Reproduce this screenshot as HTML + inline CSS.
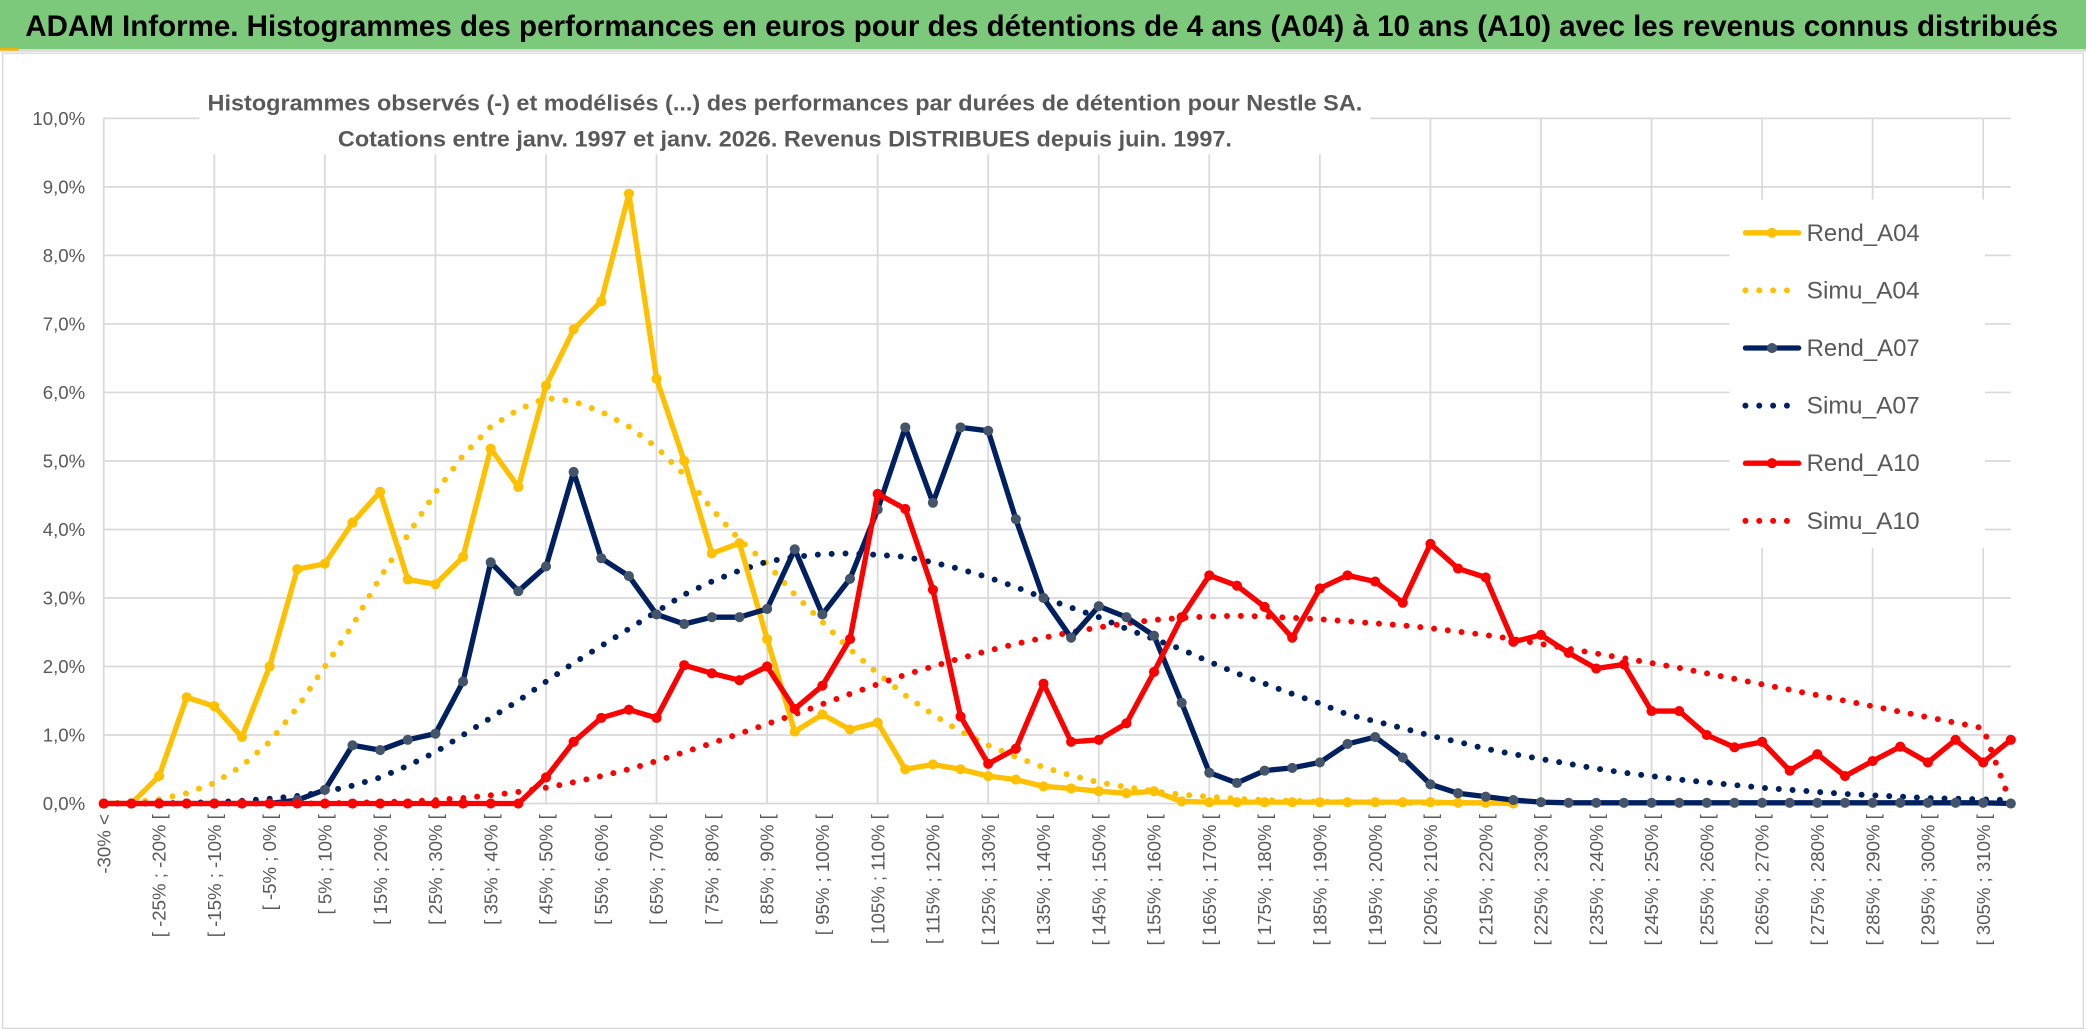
<!DOCTYPE html>
<html><head><meta charset="utf-8"><style>
html,body{margin:0;padding:0;background:#fff;}
svg{display:block;}
text{font-family:"Liberation Sans Narrow","Liberation Sans",sans-serif;}
</style></head><body>
<svg id="chart" width="2086" height="1031" viewBox="0 0 1568 775" preserveAspectRatio="none" xmlns="http://www.w3.org/2000/svg">
<rect x="0" y="0" width="1568" height="775" fill="#fff"/>
<rect x="0" y="0" width="1568" height="37" fill="#7cc97c"/>
<rect x="0" y="37" width="1568" height="2" fill="#ddd"/>
<rect x="0" y="36" width="14" height="2" fill="#f0b400"/>
<text x="19" y="27" font-size="22" font-weight="bold" fill="#000" textLength="1528" lengthAdjust="spacingAndGlyphs">ADAM Informe. Histogrammes des performances en euros pour des détentions de 4 ans (A04) à 10 ans (A10) avec les revenus connus distribués</text>
<rect x="2" y="40" width="1564" height="733" fill="none" stroke="#d9d9d9" stroke-width="1"/>
<g id="grid"></g>
<g id="yaxis"></g>
<g id="xaxis"></g>
<g id="series"></g>
<rect x="150" y="58" width="880" height="58" fill="#fff"/>
<text x="590" y="83" font-size="17" font-weight="bold" fill="#595959" text-anchor="middle" textLength="868" lengthAdjust="spacingAndGlyphs">Histogrammes observés (-) et modélisés (...) des performances par durées de détention pour Nestle SA.</text>
<text x="590" y="110" font-size="17" font-weight="bold" fill="#595959" text-anchor="middle" textLength="672" lengthAdjust="spacingAndGlyphs">Cotations entre janv. 1997 et janv. 2026. Revenus DISTRIBUES depuis juin. 1997.</text>
<g id="legend"></g>
</svg>
<script>
const categoryLabels = [];
const categoryCount = 70;
for (let k = 0; k < categoryCount; k++) {
  categoryLabels.push(k === 0 ? "-30% <" : "[ " + (-35 + 5 * k) + "% ; " + (-30 + 5 * k) + "% [");
}
const yTicks = [0,1,2,3,4,5,6,7,8,9,10];
const yTickLabels = ["0,0%","1,0%","2,0%","3,0%","4,0%","5,0%","6,0%","7,0%","8,0%","9,0%","10,0%"];

const rendA04 = [0,0,0.4,1.55,1.42,0.97,2.0,3.42,3.5,4.1,4.55,3.27,3.2,3.6,5.18,4.62,6.1,6.92,7.33,8.9,6.2,5.0,3.65,3.8,2.4,1.05,1.3,1.08,1.18,0.5,0.57,0.5,0.4,0.35,0.25,0.22,0.18,0.15,0.18,0.03,0.02,0.02,0.02,0.02,0.02,0.02,0.02,0.02,0.02,0.01,0.01,0];
const simuA04 = [0,0.02,0.06,0.15,0.3,0.55,0.9,1.4,2.0,2.6,3.3,3.92,4.54,5.08,5.5,5.75,5.92,5.87,5.72,5.5,5.2,4.8,4.3,3.85,3.5,3.05,2.65,2.25,1.9,1.58,1.3,1.05,0.85,0.68,0.53,0.41,0.31,0.24,0.18,0.13,0.1,0.07,0.05,0.04,0.03,0.02,0.02,0.01,0.01,0.01,0.01,0];
const rendA07 = [0,0,0,0,0,0,0,0.05,0.2,0.85,0.78,0.93,1.02,1.78,3.52,3.1,3.46,4.84,3.58,3.32,2.76,2.62,2.72,2.72,2.84,3.71,2.76,3.28,4.29,5.49,4.39,5.49,5.44,4.15,3.0,2.42,2.88,2.72,2.45,1.47,0.45,0.3,0.48,0.52,0.6,0.87,0.97,0.67,0.28,0.15,0.1,0.05,0.02,0.01,0.01,0.01,0.01,0.01,0.01,0.01,0.01,0.01,0.01,0.01,0.01,0.01,0.01,0.01,0.01,0];
const simuA07 = [0,0,0,0.01,0.02,0.04,0.07,0.11,0.17,0.26,0.38,0.55,0.75,1.0,1.25,1.5,1.78,2.05,2.3,2.55,2.8,3.05,3.24,3.4,3.53,3.6,3.64,3.65,3.63,3.6,3.52,3.42,3.3,3.16,3.0,2.86,2.72,2.55,2.4,2.25,2.07,1.9,1.75,1.6,1.46,1.3,1.2,1.1,0.99,0.9,0.8,0.72,0.65,0.58,0.51,0.45,0.4,0.35,0.31,0.27,0.23,0.2,0.17,0.14,0.12,0.1,0.08,0.07,0.06,0.05];
const rendA10 = [0,0,0,0,0,0,0,0,0,0,0,0,0,0,0,0,0.38,0.9,1.25,1.37,1.25,2.02,1.9,1.8,2.0,1.38,1.72,2.4,4.52,4.3,3.12,1.27,0.58,0.8,1.75,0.9,0.93,1.17,1.92,2.72,3.33,3.18,2.87,2.42,3.14,3.33,3.24,2.93,3.79,3.43,3.3,2.36,2.46,2.2,1.97,2.03,1.35,1.35,1.0,0.82,0.9,0.48,0.72,0.4,0.62,0.83,0.6,0.93,0.6,0.93];
const simuA10 = [0,0,0,0,0,0,0,0,0,0.01,0.02,0.03,0.05,0.08,0.12,0.17,0.23,0.31,0.4,0.5,0.62,0.75,0.88,1.02,1.16,1.3,1.45,1.6,1.74,1.88,2.0,2.12,2.23,2.33,2.42,2.5,2.57,2.63,2.68,2.71,2.73,2.74,2.73,2.71,2.69,2.66,2.63,2.6,2.56,2.51,2.46,2.4,2.33,2.26,2.19,2.12,2.05,1.98,1.9,1.82,1.74,1.66,1.58,1.5,1.42,1.34,1.26,1.18,1.1,0];

const NS = "http://www.w3.org/2000/svg";
const X0 = 78, X1 = 1511.5, Y0 = 604, Y10 = 89;
function xScale(i){ return X0 + i * (X1 - X0) / (categoryCount - 1); }
function yScale(v){ return Y0 - v * (Y0 - Y10) / 10; }
function mk(tag, attrs, parent){ const e = document.createElementNS(NS, tag); for (const k in attrs) e.setAttribute(k, attrs[k]); parent.appendChild(e); return e; }

const grid = document.getElementById("grid");
yTicks.forEach((t, j) => {
  const l = mk("line", {x1: X0, x2: X1, y1: yScale(t), y2: yScale(t), stroke: "#d9d9d9", "stroke-width": 1.3}, grid);
  
  
  const tx = mk("text", {x: 64, y: yScale(t) + 5, "font-size": 14, fill: "#595959", "text-anchor": "end"}, document.getElementById("yaxis"));
  tx.textContent = yTickLabels[j];
  
  
});
for (let i = 0; i < categoryCount; i += 4) {
  const l = mk("line", {x1: xScale(i), x2: xScale(i), y1: Y10, y2: Y0, stroke: "#d9d9d9", "stroke-width": 1.3}, grid);
  
  
}
const xaxis = document.getElementById("xaxis");
for (let i = 0; i < categoryCount; i += 2) {
  const x = xScale(i) + 5;
  const tx = mk("text", {x: x, y: 612, "font-size": 14, fill: "#595959", "text-anchor": "end", transform: "rotate(-90 " + x + " 612)"}, xaxis);
  tx.textContent = categoryLabels[i];
  
  
}

const series = document.getElementById("series");
function pts(arr){ return arr.map((v, i) => xScale(i).toFixed(2) + "," + yScale(v).toFixed(2)).join(" "); }
function dotted(arr, color, name){
  const p = mk("polyline", {points: pts(arr), fill: "none", stroke: color, "stroke-width": 4.5, "stroke-linecap": "round", "stroke-dasharray": "0 10.4"}, series);
  
  
}
function solid(arr, color, markerColor, name){
  const p = mk("polyline", {points: pts(arr), fill: "none", stroke: color, "stroke-width": 4, "stroke-linejoin": "round"}, series);
  
  
  arr.forEach((v, i) => {
    const c = mk("circle", {cx: xScale(i), cy: yScale(v), r: 3.8, fill: markerColor}, series);
    
    
  });
}
dotted(simuA04, "#ffc000", "simu-a04-line");
dotted(simuA07, "#002060", "simu-a07-line");
dotted(simuA10, "#ff0000", "simu-a10-line");
solid(rendA04, "#ffc000", "#ffc000", "rend-a04-line");
solid(rendA07, "#002060", "#44546a", "rend-a07-line");
solid(rendA10, "#ff0000", "#ff0000", "rend-a10-line");

const legend = document.getElementById("legend");
const lb = mk("rect", {x: 1300, y: 150, width: 192, height: 262, fill: "#fff"}, legend);


const legendNames = ["Rend_A04","Simu_A04","Rend_A07","Simu_A07","Rend_A10","Simu_A10"];
const legendColors = ["#ffc000","#ffc000","#002060","#002060","#ff0000","#ff0000"];
legendNames.forEach((n, j) => {
  const y = 175 + j * 43.3;
  const g = mk("g", {}, legend);
  
  
  if (j % 2 === 0) {
    mk("line", {x1: 1312, x2: 1352, y1: y, y2: y, stroke: legendColors[j], "stroke-width": 4, "stroke-linecap": "round"}, g);
    mk("circle", {cx: 1332, cy: y, r: 3.8, fill: j === 2 ? "#44546a" : legendColors[j]}, g);
  } else {
    mk("line", {x1: 1312, x2: 1352, y1: y, y2: y, stroke: legendColors[j], "stroke-width": 4.5, "stroke-linecap": "round", "stroke-dasharray": "0 10.4"}, g);
  }
  const t = mk("text", {x: 1358, y: y + 6, "font-size": 18, fill: "#595959", textLength: 85, lengthAdjust: "spacingAndGlyphs"}, g);
  t.textContent = n;
});
</script>
</body></html>
